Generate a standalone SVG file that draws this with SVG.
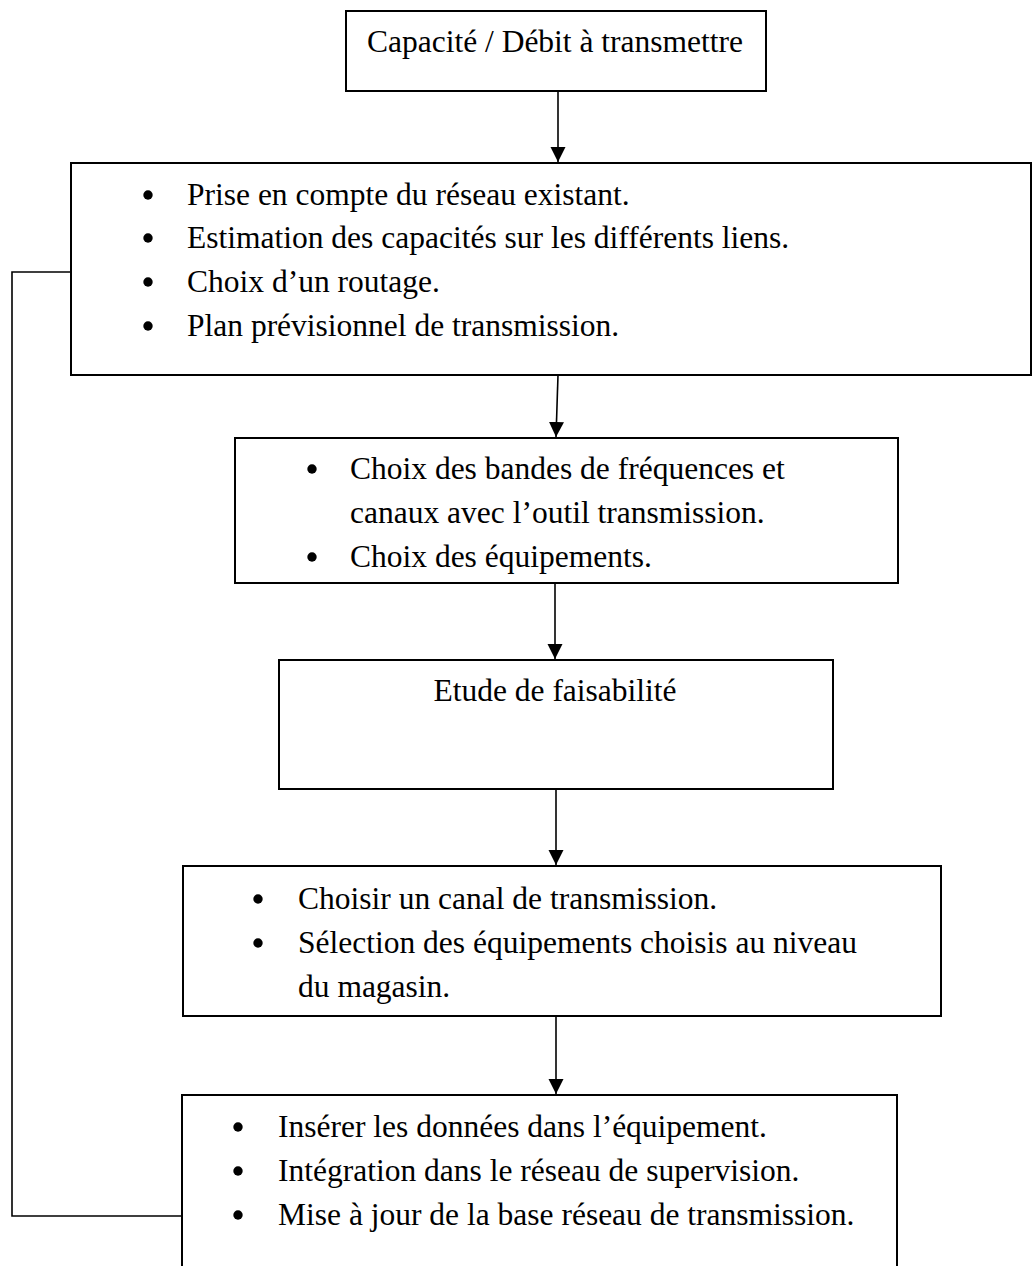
<svg xmlns="http://www.w3.org/2000/svg" width="1033" height="1266" viewBox="0 0 1033 1266">
  <style>
    .box { fill: #ffffff; stroke: #000000; stroke-width: 2; }
    .lbl { font-family: "Liberation Serif", "Times New Roman", serif; font-size: 31.5px; fill: #000000; }
    .wire { fill: none; stroke: #000000; stroke-width: 1.6; }
    .dot { fill: #000000; }
  </style>
  <defs>
    <marker id="head" markerUnits="userSpaceOnUse" markerWidth="16" markerHeight="16" refX="15" refY="7.5" orient="auto">
      <path d="M0,0 L15,7.5 L0,15 z" fill="#000000"/>
    </marker>
    <circle id="bullet" r="4.7" class="dot"/>
  </defs>

  <rect width="1033" height="1266" fill="#ffffff"/>

  <!-- connectors -->
  <g id="connectors">
    <line class="wire" x1="558" y1="91" x2="558" y2="162" marker-end="url(#head)"/>
    <line class="wire" x1="558" y1="375" x2="556" y2="437" marker-end="url(#head)"/>
    <line class="wire" x1="555" y1="583" x2="555" y2="659" marker-end="url(#head)"/>
    <line class="wire" x1="556" y1="789" x2="556" y2="865" marker-end="url(#head)"/>
    <line class="wire" x1="556" y1="1016" x2="556" y2="1094" marker-end="url(#head)"/>
    <polyline class="wire" points="71,272 12,272 12,1216 182,1216"/>
  </g>

  <!-- input -->
  <g id="node-capacite">
    <rect class="box" x="346" y="11" width="420" height="80"/>
    <text class="lbl" x="555" y="52" text-anchor="middle">Capacité / Débit à transmettre</text>
  </g>

  <!-- network analysis -->
  <g id="node-analyse">
    <rect class="box" x="71" y="163" width="960" height="212"/>
    <use href="#bullet" x="148" y="195"/>
    <use href="#bullet" x="148" y="238"/>
    <use href="#bullet" x="148" y="282"/>
    <use href="#bullet" x="148" y="326"/>
    <text class="lbl" x="187" y="205">Prise en compte du réseau existant.</text>
    <text class="lbl" x="187" y="248">Estimation des capacités sur les différents liens.</text>
    <text class="lbl" x="187" y="292">Choix d’un routage.</text>
    <text class="lbl" x="187" y="336">Plan prévisionnel de transmission.</text>
  </g>

  <!-- frequency and equipment choice -->
  <g id="node-frequences">
    <rect class="box" x="235" y="438" width="663" height="145"/>
    <use href="#bullet" x="312" y="469"/>
    <use href="#bullet" x="312" y="557"/>
    <text class="lbl" x="350" y="479">Choix des bandes de fréquences et</text>
    <text class="lbl" x="350" y="523">canaux avec l’outil transmission.</text>
    <text class="lbl" x="350" y="567">Choix des équipements.</text>
  </g>

  <!-- feasibility -->
  <g id="node-faisabilite">
    <rect class="box" x="279" y="660" width="554" height="129"/>
    <text class="lbl" x="555" y="701" text-anchor="middle">Etude de faisabilité</text>
  </g>

  <!-- channel selection -->
  <g id="node-canal">
    <rect class="box" x="183" y="866" width="758" height="150"/>
    <use href="#bullet" x="258" y="899"/>
    <use href="#bullet" x="258" y="943"/>
    <text class="lbl" x="298" y="909">Choisir un canal de transmission.</text>
    <text class="lbl" x="298" y="953">Sélection des équipements choisis au niveau</text>
    <text class="lbl" x="298" y="997">du magasin.</text>
  </g>

  <!-- configuration -->
  <g id="node-integration">
    <rect class="box" x="182" y="1095" width="715" height="200"/>
    <use href="#bullet" x="238" y="1127"/>
    <use href="#bullet" x="238" y="1171"/>
    <use href="#bullet" x="238" y="1215"/>
    <text class="lbl" x="278" y="1137">Insérer les données dans l’équipement.</text>
    <text class="lbl" x="278" y="1181">Intégration dans le réseau de supervision.</text>
    <text class="lbl" x="278" y="1225">Mise à jour de la base réseau de transmission.</text>
  </g>
</svg>
